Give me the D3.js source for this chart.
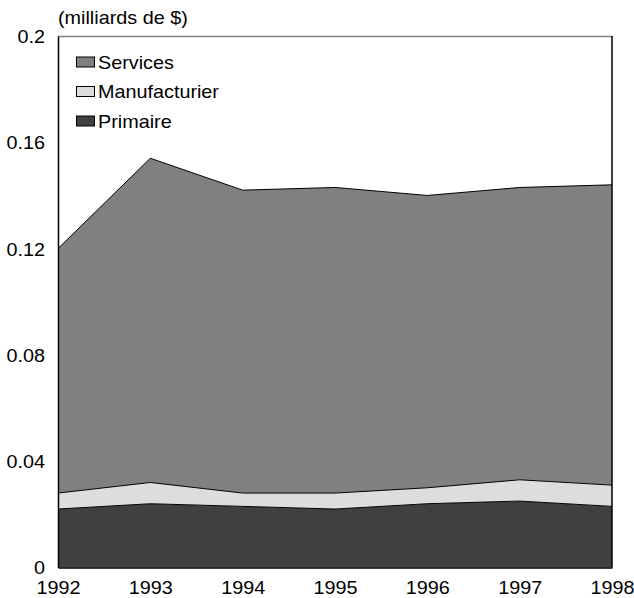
<!DOCTYPE html>
<html>
<head>
<meta charset="utf-8">
<script src="https://cdn.jsdelivr.net/npm/d3@7"></script>
<style>
  html, body { margin: 0; padding: 0; background: #fff; }
  svg text { font-family: "Liberation Sans", Arial, sans-serif; fill: #000; }
</style>
</head>
<body>
<svg id="chart" width="634" height="598"></svg>
<script>
// Investissements par secteur (milliards de $)
const years = [1992, 1993, 1994, 1995, 1996, 1997, 1998];
const primaire = [0.022, 0.024, 0.023, 0.022, 0.024, 0.025, 0.023];
const manufacturier = [0.006, 0.008, 0.005, 0.006, 0.006, 0.008, 0.008];
const services = [0.092, 0.122, 0.114, 0.115, 0.110, 0.110, 0.113];
const yTicks = [0, 0.04, 0.08, 0.12, 0.16, 0.2];
const seriesNames = ["Primaire", "Manufacturier", "Services"];
const seriesColors = ["#404040", "#dddddd", "#808080"];
const unitLabel = "(milliards de $)";

const FONT = 18;
const STRETCH = 1.1; // slightly wide lettering

const svg = d3.select("#chart");
const margin = { left: 58, right: 22, top: 36, bottom: 30.5 };
const W = 634, H = 598;

const x = d3.scaleLinear().domain([1992, 1998]).range([margin.left, W - margin.right]);
const y = d3.scaleLinear().domain([0, 0.2]).range([H - margin.bottom, margin.top]);

const rows = years.map((yr, i) => ({
  year: yr, Primaire: primaire[i], Manufacturier: manufacturier[i], Services: services[i]
}));
const stacked = d3.stack().keys(seriesNames)(rows);

const area = d3.area()
  .x(d => x(d.data.year))
  .y0(d => y(d[0]))
  .y1(d => y(d[1]));
const topLine = d3.line()
  .x(d => x(d.data.year))
  .y(d => y(d[1]));

// stacked areas
svg.append("g").selectAll("path")
  .data(stacked)
  .join("path")
  .attr("d", area)
  .attr("fill", (d, i) => seriesColors[i]);

// boundary lines on top of each layer
svg.append("g").selectAll("path")
  .data(stacked)
  .join("path")
  .attr("d", topLine)
  .attr("fill", "none")
  .attr("stroke", "#000")
  .attr("stroke-width", 1);

// frame
const x0 = x.range()[0], x1 = x.range()[1];
const yb = y(0), yt = y(0.2);
svg.append("line").attr("x1", x0).attr("x2", x1).attr("y1", yt + 0.5).attr("y2", yt + 0.5)
  .attr("stroke", "#808080").attr("stroke-width", 1.5);
svg.append("line").attr("x1", x1).attr("x2", x1).attr("y1", yt).attr("y2", yb)
  .attr("stroke", "#000").attr("stroke-width", 1.5);

// widen a text element horizontally around its anchor point
function widen(sel) {
  sel.each(function () {
    const t = d3.select(this);
    const ax = +t.attr("x") || 0;
    const prev = t.attr("transform") || "";
    t.attr("transform", `${prev} translate(${ax},0) scale(${STRETCH},1) translate(${-ax},0)`);
  });
}

// y axis
const yAxis = svg.append("g")
  .attr("transform", `translate(${x0},0)`)
  .call(d3.axisLeft(y).tickValues(yTicks).tickSize(0).tickPadding(13)
    .tickFormat(d => d3.format("")(+d.toFixed(2))));
yAxis.select(".domain").attr("stroke", "#000").attr("stroke-width", 1.5);
yAxis.selectAll("text").attr("font-size", FONT).attr("dy", "0.36em").call(widen);

// x axis
const xAxis = svg.append("g")
  .attr("transform", `translate(0,${yb})`)
  .call(d3.axisBottom(x).tickValues(years).tickSize(0).tickPadding(14)
    .tickFormat(d3.format("d")));
xAxis.select(".domain").attr("stroke", "#000").attr("stroke-width", 1.5);
xAxis.selectAll("text").attr("font-size", FONT).attr("dy", "0.68em").call(widen);

// unit label
svg.append("text").attr("x", x0).attr("y", 24).attr("font-size", FONT).text(unitLabel).call(widen);

// legend (Services first)
const legendOrder = [2, 1, 0];
const lg = svg.append("g");
legendOrder.forEach((si, k) => {
  const cy = 62 + k * 29.5;
  lg.append("rect").attr("x", 76.5).attr("y", cy - 5).attr("width", 18).attr("height", 10)
    .attr("fill", seriesColors[si]).attr("stroke", "#000").attr("stroke-width", 1);
  lg.append("text").attr("x", 98).attr("y", cy + 7).attr("font-size", FONT).text(seriesNames[si]).call(widen);
});
</script>
</body>
</html>
